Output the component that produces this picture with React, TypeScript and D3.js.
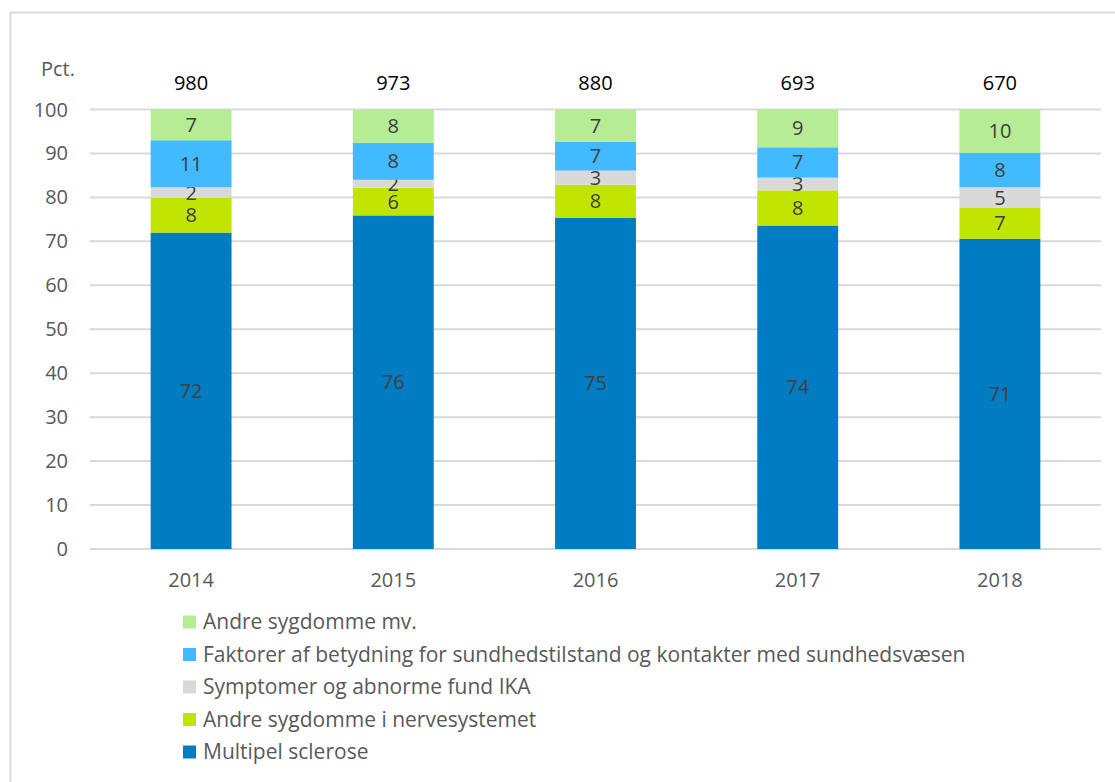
import React, { useEffect, useRef } from 'react';
import * as d3 from 'd3';

const years = ['2014', '2015', '2016', '2017', '2018'];
const totals = [980, 973, 880, 693, 670];

// percent shares per year, bottom to top
const multipelSclerose = [72.0, 75.9, 75.4, 73.6, 70.6];
const andreNerve = [7.9, 6.3, 7.5, 8.0, 7.0];
const symptomer = [2.4, 1.8, 3.2, 2.9, 4.7];
const faktorer = [10.7, 8.4, 6.6, 6.9, 7.8];
const andreMv = [7.0, 7.6, 7.3, 8.6, 9.9];

const seriesNames = [
  'Multipel sclerose',
  'Andre sygdomme i nervesystemet',
  'Symptomer og abnorme fund IKA',
  'Faktorer af betydning for sundhedstilstand og kontakter med sundhedsvæsen',
  'Andre sygdomme mv.',
];
const seriesColors = ['#007CC3', '#C1E500', '#D9D9D9', '#42BAFF', '#B5EC94'];
const yTicks = [0, 10, 20, 30, 40, 50, 60, 70, 80, 90, 100];

const W = 1115;
const H = 782;
const FONT = '"Open Sans", sans-serif';

const App: React.FC = () => {
  const svgRef = useRef<SVGSVGElement>(null);

  useEffect(() => {
    if (!svgRef.current) return;
    const svg = d3.select(svgRef.current);
    svg.selectAll('*').remove();

    const left = 90, right = 1101, top = 109.5, bottom = 549;

    // outer border
    svg.append('rect')
      .attr('x', 10.5).attr('y', 12.5)
      .attr('width', W + 20).attr('height', H + 20)
      .attr('fill', 'white')
      .attr('stroke', '#D9D9D9').attr('stroke-width', 2);

    const x = d3.scaleBand().domain(years).range([left, right]).paddingInner(0.6).paddingOuter(0.3);
    const y = d3.scaleLinear().domain([0, 100]).range([bottom, top]);

    // gridlines
    svg.append('g').selectAll('line')
      .data(yTicks)
      .enter().append('line')
      .attr('x1', left).attr('x2', right)
      .attr('y1', d => y(d)).attr('y2', d => y(d))
      .attr('stroke', '#D9D9D9').attr('stroke-width', 2);

    // y tick labels
    svg.append('g').selectAll('text')
      .data(yTicks)
      .enter().append('text')
      .attr('x', 68).attr('y', d => y(d))
      .attr('dy', '0.35em')
      .attr('text-anchor', 'end')
      .style('font-family', FONT).style('font-size', '20px')
      .style('fill', '#595959')
      .text(d => d);

    svg.append('text')
      .attr('x', 41).attr('y', 76)
      .style('font-family', FONT).style('font-size', '20px')
      .style('fill', '#595959')
      .text('Pct.');

    const rows = years.map((yr, i) => ({
      year: yr,
      s0: multipelSclerose[i], s1: andreNerve[i], s2: symptomer[i], s3: faktorer[i], s4: andreMv[i],
    }));
    const keys = ['s0', 's1', 's2', 's3', 's4'];
    const stacked = d3.stack<any>().keys(keys)(rows);

    const layers = svg.append('g').selectAll('g')
      .data(stacked)
      .enter().append('g')
      .attr('fill', (_, i) => seriesColors[i]);

    layers.selectAll('rect')
      .data(d => d)
      .enter().append('rect')
      .attr('x', d => x(d.data.year) || 0)
      .attr('width', x.bandwidth())
      .attr('y', d => y(d[1]))
      .attr('height', d => y(d[0]) - y(d[1]));

    layers.selectAll('text')
      .data(d => d)
      .enter().append('text')
      .attr('x', d => (x(d.data.year) || 0) + x.bandwidth() / 2)
      .attr('y', d => (y(d[0]) + y(d[1])) / 2)
      .attr('dy', '0.35em')
      .attr('text-anchor', 'middle')
      .style('font-family', FONT).style('font-size', '20px')
      .style('fill', '#404040')
      .text(d => Math.round(d[1] - d[0]));

    // totals above bars
    svg.append('g').selectAll('text')
      .data(totals)
      .enter().append('text')
      .attr('x', (_, i) => (x(years[i]) || 0) + x.bandwidth() / 2)
      .attr('y', 90)
      .attr('text-anchor', 'middle')
      .style('font-family', FONT).style('font-size', '20px')
      .style('fill', '#000')
      .text(d => d);

    // x labels
    svg.append('g').selectAll('text')
      .data(years)
      .enter().append('text')
      .attr('x', d => (x(d) || 0) + x.bandwidth() / 2)
      .attr('y', 587)
      .attr('text-anchor', 'middle')
      .style('font-family', FONT).style('font-size', '20px')
      .style('fill', '#595959')
      .text(d => d);

    // legend (top entry is the top series)
    const legendOrder = [4, 3, 2, 1, 0];
    const lg = svg.append('g').selectAll('g')
      .data(legendOrder)
      .enter().append('g')
      .attr('transform', (_, i) => `translate(183, ${622 + i * 32.5})`);
    lg.append('rect')
      .attr('x', 0).attr('y', -6.5)
      .attr('width', 13).attr('height', 13)
      .attr('fill', d => seriesColors[d]);
    lg.append('text')
      .attr('x', 20).attr('y', 0)
      .attr('dy', '0.35em')
      .style('font-family', FONT).style('font-size', '21px')
      .style('fill', '#595959')
      .text(d => seriesNames[d]);
  }, []);

  return (
    <svg
      ref={svgRef}
      width={W}
      height={H}
      style={{ position: 'absolute', left: 0, top: 0, background: 'white' }}
    />
  );
};

export default App;
